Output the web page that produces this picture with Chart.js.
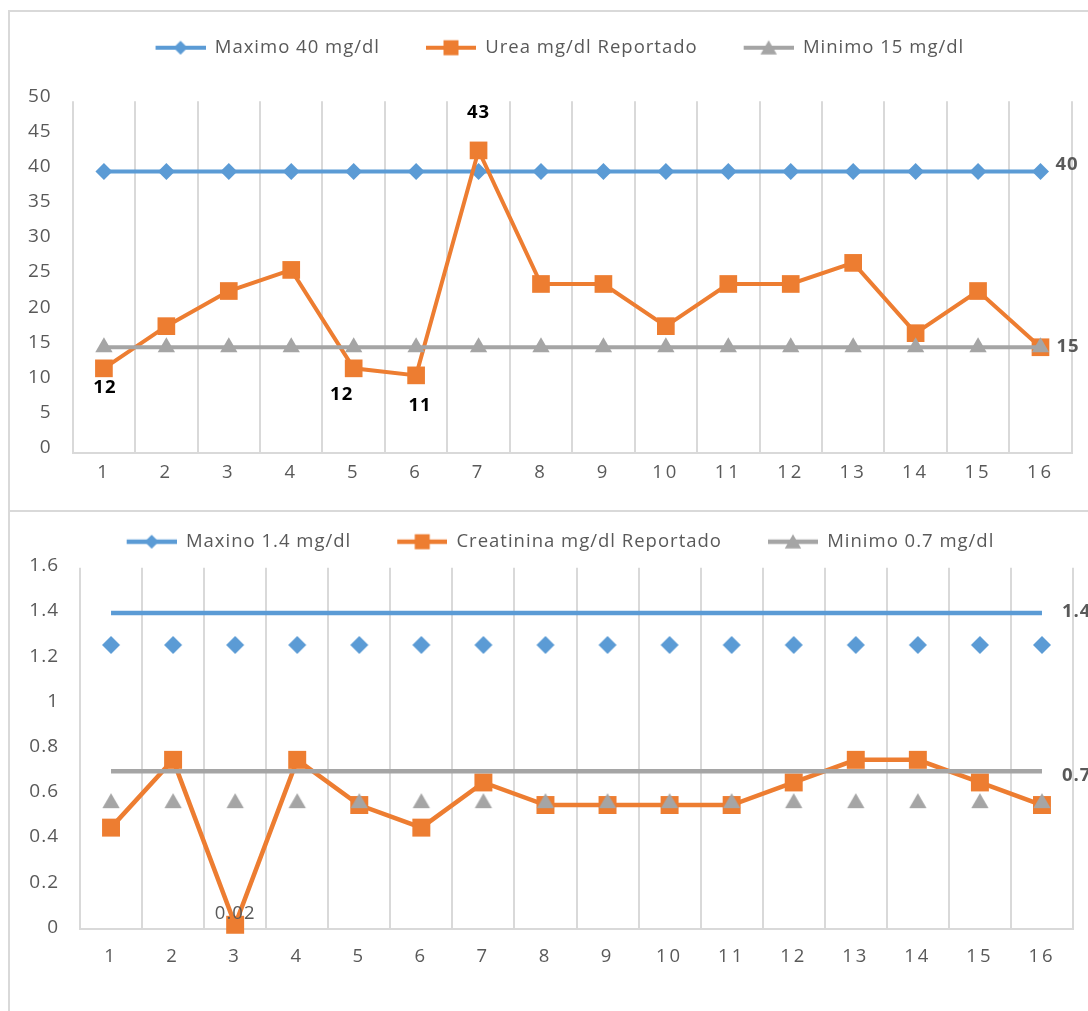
<!DOCTYPE html>
<html>
<head>
<meta charset="utf-8">
<script src="https://cdn.jsdelivr.net/npm/chart.js@4.4.1/dist/chart.umd.min.js"></script>
<style>
  html, body { margin: 0; padding: 0; background: #ffffff; overflow: hidden; }
  body { width: 1088px; height: 1011px; position: relative; font-family: "Open Sans", sans-serif; }
  .frame { position: absolute; left: 8px; width: 1100px; box-sizing: border-box;
           border-left: 2px solid #d9d9d9; border-top: 2px solid #d9d9d9; }
  #frameUrea { top: 10px; height: 502px; }
  #frameCrea { top: 510px; height: 520px; }
  canvas { position: absolute; }
  #ureaChart { left: 10px; top: 12px; }
  #creaChart { left: 10px; top: 512px; }
</style>
</head>
<body>
<div class="frame" id="frameUrea"></div>
<div class="frame" id="frameCrea"></div>
<canvas id="ureaChart" width="1078" height="498"></canvas>
<canvas id="creaChart" width="1078" height="499"></canvas>
<script>
// ---- data ----
const days = ['1', '2', '3', '4', '5', '6', '7', '8', '9', '10', '11', '12', '13', '14', '15', '16'];

const ureaSeriesNames = ['Maximo 40 mg/dl', 'Urea mg/dl Reportado', 'Minimo 15 mg/dl'];
const ureaMax = [40, 40, 40, 40, 40, 40, 40, 40, 40, 40, 40, 40, 40, 40, 40, 40];
const ureaReported = [12, 18, 23, 26, 12, 11, 43, 24, 24, 18, 24, 24, 27, 17, 23, 15];
const ureaMin = [15, 15, 15, 15, 15, 15, 15, 15, 15, 15, 15, 15, 15, 15, 15, 15];
const ureaAxis = [0, 50, 5];       // min, max, step

const creaSeriesNames = ['Maxino 1.4 mg/dl', 'Creatinina mg/dl Reportado', 'Minimo 0.7 mg/dl'];
const creaMax = [1.4, 1.4, 1.4, 1.4, 1.4, 1.4, 1.4, 1.4, 1.4, 1.4, 1.4, 1.4, 1.4, 1.4, 1.4, 1.4];
const creaReported = [0.45, 0.75, 0.02, 0.75, 0.55, 0.45, 0.65, 0.55, 0.55, 0.55, 0.55, 0.65, 0.75, 0.75, 0.65, 0.55];
const creaMin = [0.7, 0.7, 0.7, 0.7, 0.7, 0.7, 0.7, 0.7, 0.7, 0.7, 0.7, 0.7, 0.7, 0.7, 0.7, 0.7];
const creaAxis = [0, 1.6, 0.2];

// ---- styling ----
const BLUE = '#5B9BD5', ORANGE = '#ED7D31', GRAY = '#A5A5A5';
const TEXT = '#595959', GRID = '#d9d9d9';
const FONT = '"Open Sans", sans-serif';

function drawMarker(ctx, kind, cx, cy, r) {
  ctx.beginPath();
  if (kind === 'diamond') {
    ctx.moveTo(cx, cy - r); ctx.lineTo(cx + r, cy); ctx.lineTo(cx, cy + r); ctx.lineTo(cx - r, cy);
  } else if (kind === 'square') {
    ctx.rect(cx - r, cy - r, 2 * r, 2 * r);
  } else {
    const h = r * 0.866;
    ctx.moveTo(cx, cy - r); ctx.lineTo(cx + h, cy + r / 2); ctx.lineTo(cx - h, cy + r / 2);
  }
  ctx.closePath();
  ctx.fill();
}

// marker drawn a fixed distance below its anchor (the creatinine limit series)
function shiftedMarker(kind, color, r, shift) {
  const c = document.createElement('canvas');
  const half = Math.ceil(Math.abs(shift) + r + 2);
  c.width = Math.ceil(2 * r + 4);
  c.height = 2 * half;
  const g = c.getContext('2d');
  g.fillStyle = color;
  drawMarker(g, kind, c.width / 2, half + shift, r);
  return c;
}

// legend swatch: line with marker, with some lead-in space
const LEAD = 38, SWATCH = 50;
function legendSwatch(kind, color, lw) {
  const c = document.createElement('canvas');
  c.width = LEAD + SWATCH; c.height = 24;
  const g = c.getContext('2d');
  g.strokeStyle = color; g.fillStyle = color; g.lineWidth = lw;
  g.beginPath(); g.moveTo(LEAD, 12); g.lineTo(LEAD + SWATCH, 12); g.stroke();
  const r = kind === 'diamond' ? 7 : kind === 'square' ? 7.5 : 9.5;
  drawMarker(g, kind, LEAD + SWATCH / 2, kind === 'triangle' ? 14 : 12, r);
  return c;
}

// ---- plugins ----
const legendGap = {
  id: 'legendGap',
  beforeLayout(chart, args, opts) {
    const lg = chart.legend;
    if (lg && !lg._gapWrapped) {
      const fit = lg.fit;
      lg.fit = function () { fit.call(this); this.height += opts.gap || 0; };
      lg._gapWrapped = true;
    }
  }
};

const spacing = {
  id: 'spacing',
  beforeLayout(chart) { chart.ctx.letterSpacing = '1px'; },
  beforeDraw(chart) {
    chart.ctx.letterSpacing = '1px';
    const sx = chart.scales.x;
    if (sx && !sx._spaced) {
      const orig = sx.drawLabels;
      sx.drawLabels = function (area) {
        const c = this.ctx; const prev = c.letterSpacing;
        c.letterSpacing = '3px'; orig.call(this, area); c.letterSpacing = prev;
      };
      sx._spaced = true;
    }
  }
};

const valueTags = {
  id: 'valueTags',
  afterDatasetsDraw(chart, args, opts) {
    const ctx = chart.ctx;
    (opts.tags || []).forEach(t => {
      const el = chart.getDatasetMeta(t.ds).data[t.i];
      const v = chart.data.datasets[t.ds].data[t.i];
      ctx.save();
      ctx.font = (t.bold ? 'bold ' : '') + '18.5px ' + FONT;
      ctx.fillStyle = t.color;
      ctx.textAlign = t.align || 'center';
      ctx.textBaseline = 'middle';
      ctx.fillText(String(v), el.x + t.dx, el.y + t.dy);
      ctx.restore();
    });
  }
};

function buildChart(canvasId, cfg) {
  return new Chart(document.getElementById(canvasId), {
    type: 'line',
    data: {
      labels: days,
      datasets: cfg.series.map(s => ({
        label: s.name,
        data: s.data,
        borderColor: s.color,
        backgroundColor: s.color,
        pointBackgroundColor: s.color,
        borderWidth: cfg.lineWidth,
        pointStyle: s.pointStyle,
        pointRadius: s.radius,
        pointBorderWidth: 0,
        order: s.order,
        tension: 0,
        fill: false,
        clip: false,
        swatch: legendSwatch(s.kind, s.color, cfg.lineWidth)
      }))
    },
    options: {
      responsive: false,
      animation: false,
      events: [],
      layout: { padding: { top: cfg.padTop, right: cfg.padRight, left: 0, bottom: 0 } },
      scales: {
        x: {
          offset: true,
          grid: { offset: true, color: GRID, lineWidth: 2, drawTicks: false },
          border: { color: GRID, width: 2 },
          ticks: { color: TEXT, font: { family: FONT, size: 18.5 }, padding: cfg.xPad,
                   autoSkip: false, maxRotation: 0 },
          afterFit(scale) { scale.height = cfg.xHeight; }
        },
        y: {
          min: cfg.axis[0], max: cfg.axis[1],
          grid: { display: false, drawTicks: false },
          border: { display: false },
          ticks: { stepSize: cfg.axis[2], color: TEXT, font: { family: FONT, size: 19 },
                   padding: 21, labelOffset: cfg.yLabelShift,
                   callback: v => String(Math.round(v * 10) / 10) },
          afterFit(scale) { scale.width = cfg.yWidth; }
        }
      },
      plugins: {
        tooltip: { enabled: false },
        legend: {
          position: 'top',
          labels: {
            usePointStyle: true,
            pointStyleWidth: LEAD + SWATCH,
            padding: 8,
            color: TEXT,
            font: { family: FONT, size: 18.5 },
            generateLabels(chart) {
              return chart.data.datasets.map((ds, i) => ({
                text: ds.label, datasetIndex: i, pointStyle: ds.swatch,
                fontColor: TEXT, fillStyle: 'rgba(0,0,0,0)', strokeStyle: 'rgba(0,0,0,0)',
                lineWidth: 0, hidden: false
              }));
            }
          }
        },
        legendGap: { gap: cfg.legendGap },
        valueTags: { tags: cfg.tags }
      }
    },
    plugins: [legendGap, spacing, valueTags]
  });
}

// ---- urea chart ----
buildChart('ureaChart', {
  axis: ureaAxis,
  lineWidth: 4,
  padTop: 18.5, padRight: 16.3, legendGap: 34.2,
  yWidth: 62.7, xHeight: 57.3, xPad: 9, yLabelShift: -5,
  series: [
    { name: ureaSeriesNames[0], data: ureaMax, color: BLUE, kind: 'diamond', pointStyle: 'rectRot', radius: 8.5, order: 2 },
    { name: ureaSeriesNames[1], data: ureaReported, color: ORANGE, kind: 'square', pointStyle: 'rect', radius: 12.5, order: 1 },
    { name: ureaSeriesNames[2], data: ureaMin, color: GRAY, kind: 'triangle', pointStyle: 'triangle', radius: 10, order: 0 }
  ],
  tags: [
    { ds: 1, i: 0, dx: 1, dy: 19, bold: true, color: '#000000' },
    { ds: 1, i: 4, dx: -12, dy: 26, bold: true, color: '#000000' },
    { ds: 1, i: 5, dx: 4, dy: 30, bold: true, color: '#000000' },
    { ds: 1, i: 6, dx: 0, dy: -38, bold: true, color: '#000000' },
    { ds: 0, i: 15, dx: 15, dy: -7, bold: true, color: TEXT, align: 'left' },
    { ds: 2, i: 15, dx: 16, dy: -1, bold: true, color: TEXT, align: 'left' }
  ]
});

// ---- creatinine chart ----
buildChart('creaChart', {
  axis: creaAxis,
  lineWidth: 4.5,
  padTop: 12.5, padRight: 15, legendGap: 6.8,
  yWidth: 70, xHeight: 81.7, xPad: 16, yLabelShift: -2,
  series: [
    { name: creaSeriesNames[0], data: creaMax, color: BLUE, kind: 'diamond', pointStyle: shiftedMarker('diamond', BLUE, 9, 32), radius: 9, order: 2 },
    { name: creaSeriesNames[1], data: creaReported, color: ORANGE, kind: 'square', pointStyle: 'rect', radius: 12.7, order: 1 },
    { name: creaSeriesNames[2], data: creaMin, color: GRAY, kind: 'triangle', pointStyle: shiftedMarker('triangle', GRAY, 10, 32), radius: 10, order: 0 }
  ],
  tags: [
    { ds: 0, i: 15, dx: 20, dy: -1, bold: true, color: TEXT, align: 'left' },
    { ds: 2, i: 15, dx: 20, dy: 5, bold: true, color: TEXT, align: 'left' },
    { ds: 1, i: 2, dx: 0, dy: -11, bold: false, color: TEXT }
  ]
});
</script>
</body>
</html>
